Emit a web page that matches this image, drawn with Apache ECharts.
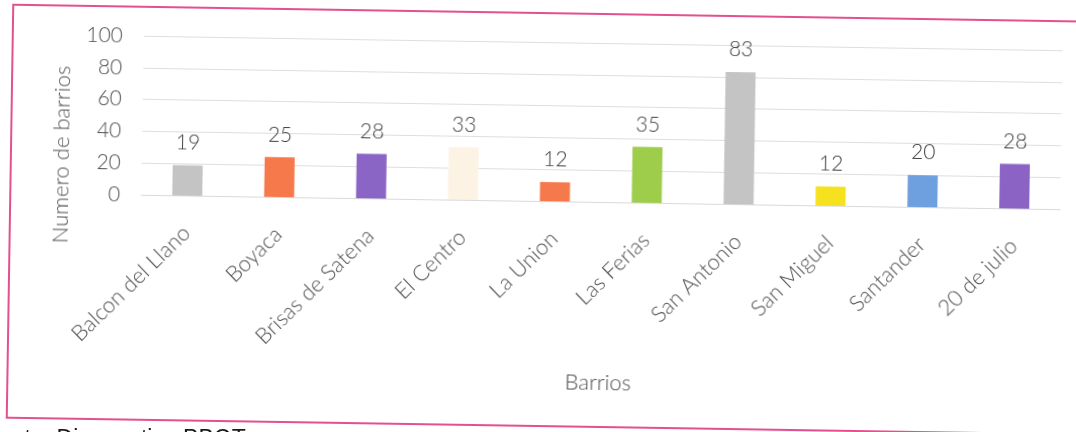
<!DOCTYPE html>
<html>
<head>
<meta charset="utf-8">
<script src="https://cdn.jsdelivr.net/npm/echarts@6/dist/echarts.min.js"></script>
<style>
  html, body { margin: 0; padding: 0; background: #ffffff; overflow: hidden; }
  #wrap { position: relative; width: 1076px; height: 432px; overflow: hidden; background: #fff; }
  #chart { position: absolute; left: 0; top: 0; width: 1076px; height: 432px; transform: rotate(0.9deg); transform-origin: 538px 216px; }
  #fuente { position: absolute; left: -1px; top: 425px; font-family: "Liberation Sans", Arial, sans-serif; font-size: 23px; color: #1a1a1a; white-space: nowrap; line-height: 26px; }
</style>
</head>
<body>
<div id="wrap">
  <div id="chart"></div>
  <div id="fuente">onte: Diagnostico PBOT</div>
</div>
<script>
// Barrios y número de barrios por sector
const barrios = ['Balcon del Llano', 'Boyaca', 'Brisas de Satena', 'El Centro', 'La Union',
                 'Las Ferias', 'San Antonio', 'San Miguel', 'Santander', '20 de julio'];
const numeroBarrios = [19, 25, 28, 33, 12, 35, 83, 12, 20, 28];
const coloresBarras = ['#c4c4c4', '#f6794c', '#8b65c5', '#fcf3e4', '#f6794c',
                       '#9dcd4b', '#c4c4c4', '#f6e11f', '#6e9fdf', '#8a63c4'];
const yTicks = [0, 20, 40, 60, 80, 100];

const FONT = 'Lato, "Open Sans", sans-serif';
const GRAY = '#505050';
const WEIGHT = 300;

const chart = echarts.init(document.getElementById('chart'), null, { renderer: 'canvas' });

chart.setOption({
  backgroundColor: 'transparent',
  animation: false,
  grid: { left: 141, right: 16, top: 42, bottom: 231, containLabel: false },
  xAxis: {
    type: 'category',
    data: barrios,
    axisLine: { show: true, lineStyle: { color: '#d9d9d9', width: 1 } },
    axisTick: { show: false },
    axisLabel: {
      interval: 0,
      rotate: 45,
      margin: 34,
      color: GRAY,
      fontFamily: FONT,
      fontWeight: WEIGHT,
      fontSize: 22
    },
    name: 'Barrios',
    nameLocation: 'middle',
    nameGap: 170,
    nameTextStyle: { color: GRAY, fontFamily: FONT, fontWeight: WEIGHT, fontSize: 22 }
  },
  yAxis: {
    type: 'value',
    min: yTicks[0],
    max: yTicks[yTicks.length - 1],
    interval: yTicks[1] - yTicks[0],
    axisLine: { show: false },
    axisTick: { show: false },
    splitLine: { lineStyle: { color: '#dedede', width: 1 } },
    axisLabel: { margin: 21, color: GRAY, fontFamily: FONT, fontWeight: WEIGHT, fontSize: 21 }
  },
  graphic: [
    {
      type: 'rect',
      shape: { x: 10, y: 13, width: 1080, height: 413 },
      style: { fill: 'none', stroke: '#e2508e', lineWidth: 2 },
      silent: true,
      z: 0
    },
    {
      type: 'text',
      x: 61,
      y: 162,
      rotation: Math.PI / 2,
      style: {
        text: 'Numero de barrios',
        fill: GRAY,
        font: WEIGHT + ' 22px ' + FONT,
        align: 'center',
        verticalAlign: 'middle'
      }
    }
  ],
  series: [{
    type: 'bar',
    barWidth: 30,
    data: numeroBarrios.map((v, i) => ({ value: v, itemStyle: { color: coloresBarras[i] } })),
    label: {
      show: true,
      position: 'top',
      distance: 12,
      color: '#404040',
      fontFamily: FONT,
      fontWeight: WEIGHT,
      fontSize: 21
    }
  }]
});
</script>
</body>
</html>
